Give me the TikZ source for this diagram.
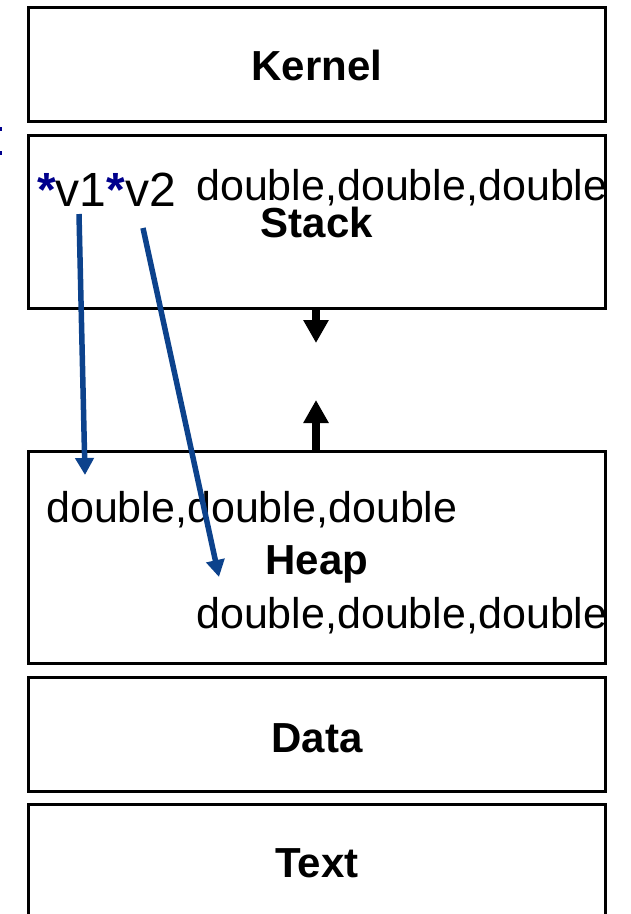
\documentclass[tikz,border=0pt]{standalone}
\usepackage{fontspec}
\setmainfont{Liberation Sans}
\usetikzlibrary{arrows.meta}
\definecolor{ptrblue}{RGB}{12,66,140}
\definecolor{starblue}{RGB}{0,0,140}
\begin{document}
\begin{tikzpicture}[x=1pt,y=-1pt,
  segment/.style={draw=black, line width=2.5pt, minimum width=577pt,
    inner sep=0pt, anchor=north west},
  title/.style={font=\fontsize{42}{48}\selectfont\bfseries, anchor=base, inner sep=0pt},
  value/.style={font=\fontsize{43}{48}\selectfont, anchor=base west, inner sep=0pt},
  pointer/.style={draw=ptrblue, line width=5.5pt, -{Triangle[width=18pt,length=17pt]}},
  growth/.style={draw=black, line width=8pt, -{Triangle[width=24pt,length=23pt]}}]
\useasboundingbox (0,0) rectangle (631,914);
\clip (0,0) rectangle (631,914);

% memory segments, top to bottom
\node[segment, minimum height=114pt] (kernel)  at (27,6)   {};
\node[segment, minimum height=173pt] (stack)   at (27,134) {};
\node[segment, minimum height=212pt] (heap)    at (27,450) {};
\node[segment, minimum height=114pt] (data)    at (27,676) {};
\node[segment, minimum height=118pt] (textseg) at (27,803) {};

% segment names
\node[title] (kernellbl) at (317,80)  {Kernel};
\node[title] (stacklbl)  at (317,237) {Stack};
\node[title] (heaplbl)   at (317,574) {Heap};
\node[title] (datalbl)   at (317,752) {Data};
\node[title] (textlbl)   at (317,877) {Text};

% contents
\node[font=\fontsize{48}{56}\selectfont, anchor=base west, inner sep=0pt] (ptrs)
  at (37,206) {\textcolor{starblue}{\bfseries *}v1\textcolor{starblue}{\bfseries *}v2};
\node[value] (stackvals) at (196,200) {double,double,double};
\node[value] (heapvalsa) at (46,522)  {double,double,double};
\node[value] (heapvalsb) at (196,628) {double,double,double};

% small marks at the left edge
\fill[starblue] (0,127) rectangle (2,131);
\fill[starblue] (0,151) rectangle (2,155);

% pointers from the stack into the heap
\coordinate (v1from) at (79,214);
\coordinate (v1to)   at (85,475);
\coordinate (v2from) at (143,228);
\coordinate (v2to)   at (219,577);
\draw[pointer] (v1from) -- (v1to);
\draw[pointer] (v2from) -- (v2to);

% growth directions of stack and heap
\coordinate (stackgrow) at (316,343);
\coordinate (heapgrow)  at (316,400);
\draw[growth] (stack.south -| stackgrow) -- (stackgrow);
\draw[growth] (heap.north -| heapgrow) -- (heapgrow);
\end{tikzpicture}
\end{document}
